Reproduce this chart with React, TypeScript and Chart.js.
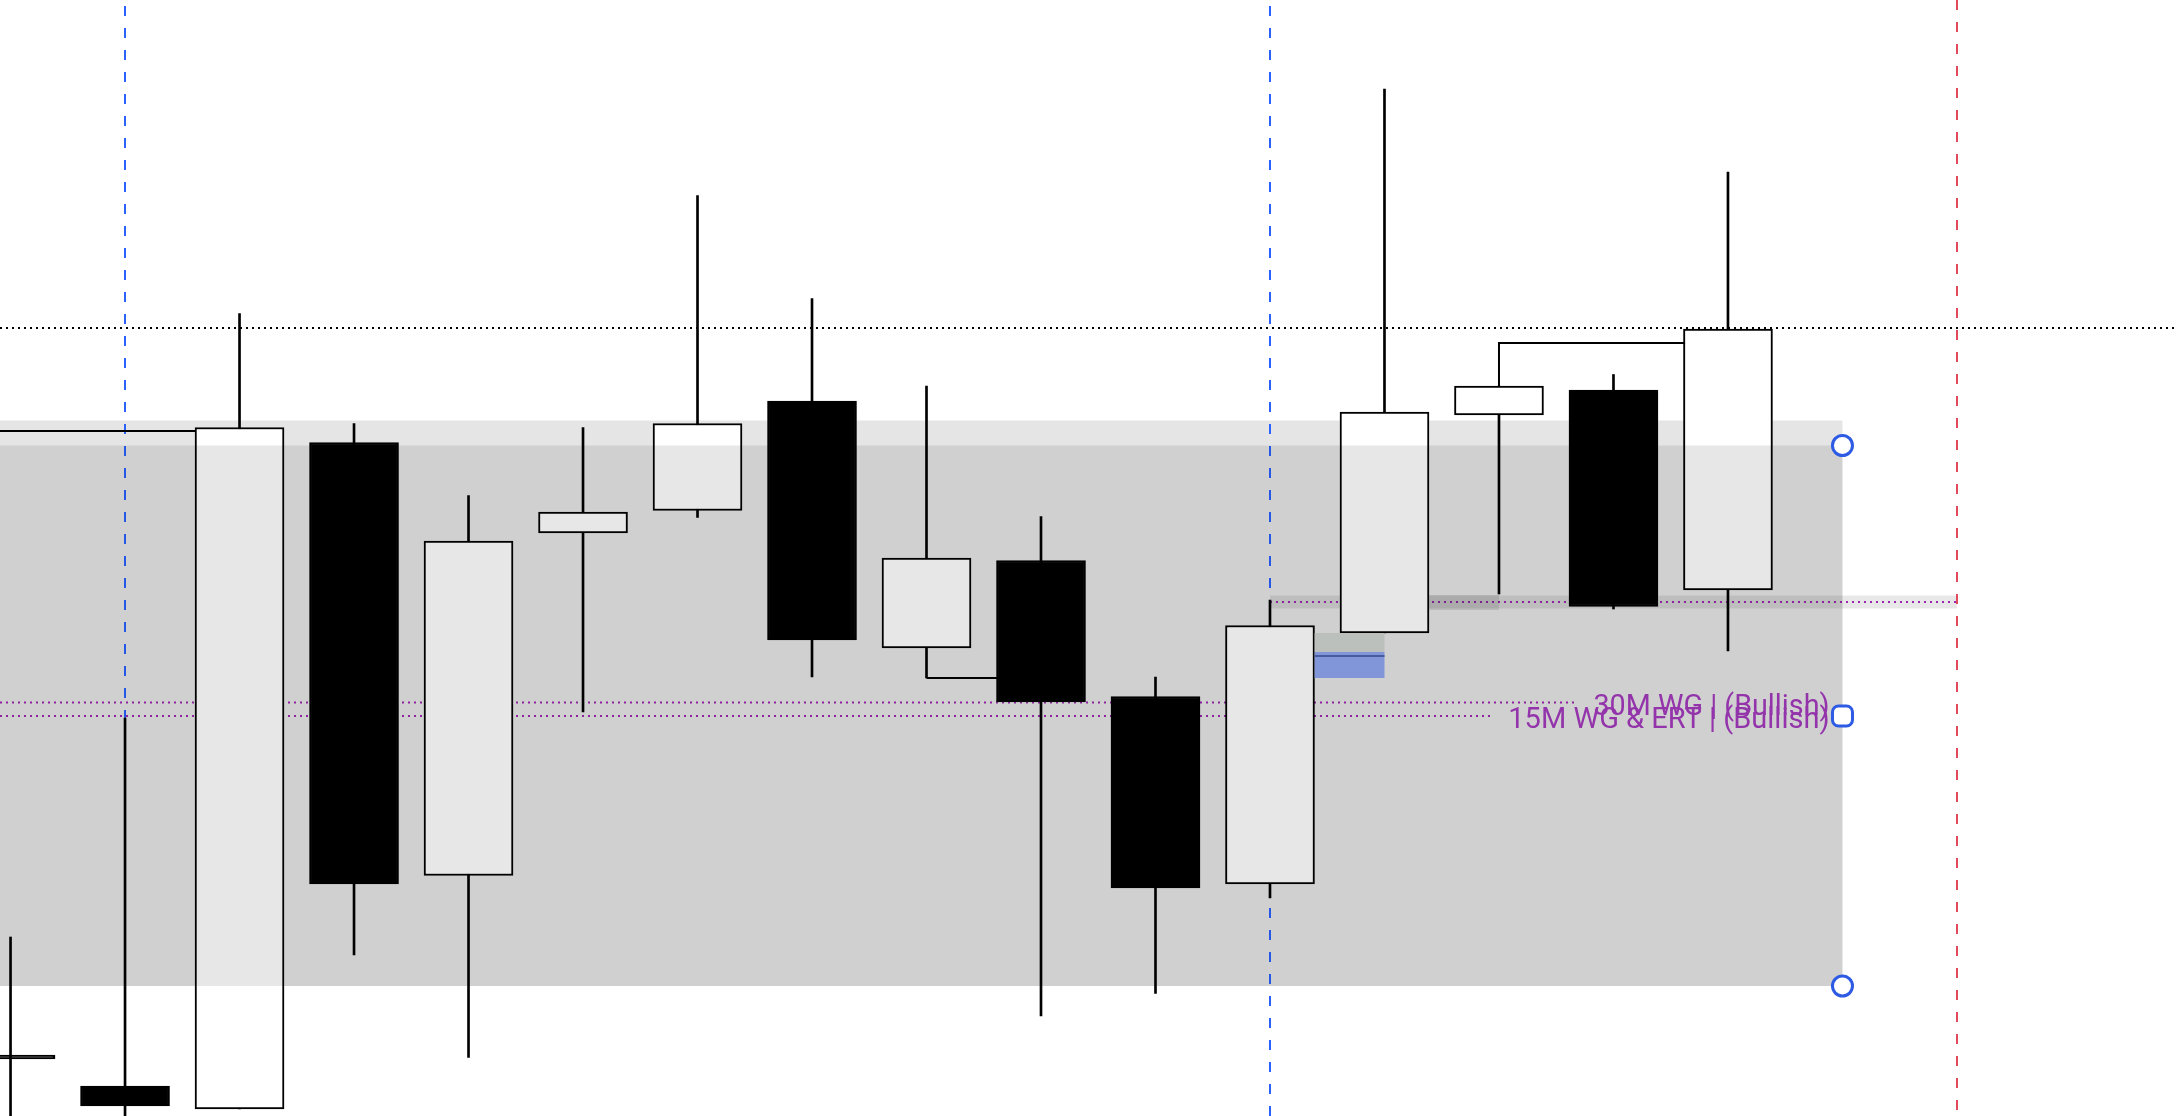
import { useEffect, useRef } from "react";
import { Chart, registerables } from "chart.js";

Chart.register(...registerables);

// ---- Candle data (bar index, OHLC) ----
const barIndex = [0, 1, 2, 3, 4, 5, 6, 7, 8, 9, 10, 11, 12, 13, 14, 15];
const opens = [2239.0, 2232.8, 2228.2, 2361.5, 2274.9, 2343.4, 2347.9, 2369.8, 2320.4, 2337.9, 2310.7, 2273.2, 2323.4, 2367.0, 2372.0, 2332.0];
const highs = [2262.6, 2306.4, 2387.3, 2365.3, 2350.9, 2364.5, 2410.9, 2390.3, 2372.8, 2346.7, 2314.6, 2330.0, 2432.2, 2372.8, 2375.1, 2415.6];
const lows = [2222.0, 2222.0, 2228.2, 2259.0, 2238.5, 2307.6, 2346.5, 2314.6, 2314.4, 2246.8, 2251.3, 2270.4, 2323.4, 2331.2, 2328.2, 2319.8];
const closes = [2238.2, 2228.8, 2364.5, 2273.2, 2341.8, 2347.6, 2365.3, 2322.0, 2338.4, 2309.6, 2272.4, 2324.9, 2367.6, 2372.8, 2328.7, 2384.2];

// ---- Visible ranges ----
const xRange = [-0.092, 18.913];
const yRange = [2226.8, 2450.0];

// ---- Drawings ----
const zoneX = [-1, 16];
const zoneBandTop = 2365.9;
const zoneTop = 2360.9;
const zoneBottom = 2252.8;
const blackDottedLevel = 2384.5;
const leftLine = { from: -1, to: 2, level: 2363.8 };
const wgLabels = ["30M WG | (Bullish)", "15M WG & ERT | (Bullish)"];
const wgLevels = [2309.5, 2306.8];
const wgLabelWidths = [236, 322];
const keyLevel = 2329.6;
const keyBand = [2328.3, 2330.9];
const keyRange = [11, 17];
const greyMark = { x: [12.39, 13], y: [2328.0, 2331.0] };
const posTarget = { x: [11.39, 12.0], y: [2319.6, 2323.4] };
const posStop = { x: [11.39, 12.0], y: [2314.4, 2319.6] };
const posEntry = 2318.8;
const connectorA = [[8, 2314.4], [9, 2314.4]];
const connectorB = [[13, 2372.8], [13, 2381.4], [15, 2381.4]];
const blueSessionLines = [1, 11];
const redSessionLine = 17;
const handleX = 16;
const handleLevels = [zoneTop, 2306.8, zoneBottom];

const PURPLE = "#9c27b0";
const LABEL_FONT = "29px Roboto";

const drawingsPlugin = {
  id: "drawings",
  beforeDatasetsDraw(chart: any) {
    const { ctx, scales, chartArea } = chart;
    const X = (v: number) => scales.x.getPixelForValue(v);
    const Y = (v: number) => scales.y.getPixelForValue(v);
    ctx.save();
    // zone band (light layer)
    ctx.fillStyle = "rgba(0,0,0,0.1)";
    ctx.fillRect(X(zoneX[0]), Y(zoneBandTop), X(zoneX[1]) - X(zoneX[0]), Y(zoneBottom) - Y(zoneBandTop));
    // key level band
    ctx.fillStyle = "rgba(0,0,0,0.09)";
    ctx.fillRect(X(keyRange[0]), Y(keyBand[1]), X(keyRange[1]) - X(keyRange[0]), Y(keyBand[0]) - Y(keyBand[1]));

    // black dotted level
    ctx.lineWidth = 2;
    ctx.setLineDash([2, 4]);
    ctx.strokeStyle = "#000";
    ctx.beginPath();
    ctx.moveTo(chartArea.left, Math.round(Y(blackDottedLevel)));
    ctx.lineTo(chartArea.right, Math.round(Y(blackDottedLevel)));
    ctx.stroke();

    // key level purple dotted
    ctx.strokeStyle = PURPLE;
    ctx.beginPath();
    ctx.moveTo(X(keyRange[0]), Y(keyLevel));
    ctx.lineTo(X(keyRange[1]), Y(keyLevel));
    ctx.stroke();

    // WG lines (stop before their labels)
    ctx.font = LABEL_FONT;
    wgLevels.forEach((lv, i) => {
      const w = Math.min(ctx.measureText(wgLabels[i]).width, wgLabelWidths[i]);
      const endX = X(handleX) - 13 - w - 17;
      ctx.beginPath();
      ctx.moveTo(chartArea.left, Y(lv));
      ctx.lineTo(endX, Y(lv));
      ctx.stroke();
    });

    // session lines
    ctx.setLineDash([10, 12]);
    ctx.strokeStyle = "#2962ff";
    blueSessionLines.forEach((v) => {
      ctx.beginPath();
      ctx.moveTo(Math.round(X(v)), chartArea.top - 16);
      ctx.lineTo(Math.round(X(v)), chartArea.bottom);
      ctx.stroke();
    });
    ctx.strokeStyle = "#e04a5a";
    ctx.beginPath();
    ctx.moveTo(Math.round(X(redSessionLine)), chartArea.top);
    ctx.lineTo(Math.round(X(redSessionLine)), chartArea.bottom);
    ctx.stroke();

    // solid connectors
    ctx.setLineDash([]);
    ctx.strokeStyle = "#000";
    ctx.lineWidth = 2;
    ctx.beginPath();
    ctx.moveTo(X(leftLine.from), Y(leftLine.level));
    ctx.lineTo(X(leftLine.to), Y(leftLine.level));
    ctx.stroke();
    [connectorA, connectorB].forEach((path) => {
      ctx.beginPath();
      path.forEach(([px, py], k) => {
        if (k === 0) ctx.moveTo(X(px), Y(py));
        else ctx.lineTo(X(px), Y(py));
      });
      ctx.stroke();
    });
    ctx.restore();
  },
  afterDatasetsDraw(chart: any) {
    const { ctx, scales } = chart;
    const X = (v: number) => scales.x.getPixelForValue(v);
    const Y = (v: number) => scales.y.getPixelForValue(v);
    ctx.save();
    // zone overlay
    ctx.fillStyle = "rgba(0,0,0,0.095)";
    ctx.fillRect(X(zoneX[0]), Y(zoneTop), X(zoneX[1]) - X(zoneX[0]), Y(zoneBottom) - Y(zoneTop));
    // grey mark
    ctx.fillStyle = "rgba(0,0,0,0.1)";
    ctx.fillRect(X(greyMark.x[0]), Y(greyMark.y[1]), X(greyMark.x[1]) - X(greyMark.x[0]), Y(greyMark.y[0]) - Y(greyMark.y[1]));
    // position tool
    ctx.fillStyle = "#bcc0bc";
    ctx.fillRect(X(posTarget.x[0]), Y(posTarget.y[1]), X(posTarget.x[1]) - X(posTarget.x[0]), Y(posTarget.y[0]) - Y(posTarget.y[1]));
    ctx.fillStyle = "#8196d9";
    ctx.fillRect(X(posStop.x[0]), Y(posStop.y[1]), X(posStop.x[1]) - X(posStop.x[0]), Y(posStop.y[0]) - Y(posStop.y[1]));
    ctx.strokeStyle = "#4a5aa0";
    ctx.lineWidth = 2;
    ctx.beginPath();
    ctx.moveTo(X(posStop.x[0]), Y(posEntry));
    ctx.lineTo(X(posStop.x[1]), Y(posEntry));
    ctx.stroke();

    // labels
    ctx.font = LABEL_FONT;
    ctx.fillStyle = "#9334ab";
    ctx.textAlign = "right";
    ctx.textBaseline = "alphabetic";
    wgLevels.forEach((lv, i) => {
      ctx.fillText(wgLabels[i], X(handleX) - 13, Y(lv) + 12, wgLabelWidths[i]);
    });

    // handles
    ctx.strokeStyle = "#2d5be3";
    ctx.lineWidth = 3;
    ctx.fillStyle = "#ffffff";
    handleLevels.forEach((lv, i) => {
      const cx = X(handleX);
      const cy = Y(lv);
      ctx.beginPath();
      if (i === 1) {
        ctx.roundRect(cx - 10, cy - 10, 20, 20, 6);
      } else {
        ctx.arc(cx, cy, 10, 0, Math.PI * 2);
      }
      ctx.fill();
      ctx.stroke();
    });
    ctx.restore();
  },
};

export default function App() {
  const canvasRef = useRef<HTMLCanvasElement | null>(null);

  useEffect(() => {
    if (!canvasRef.current) return;
    const bodyColors = barIndex.map((_, i) => (closes[i] >= opens[i] ? "#ffffff" : "#000000"));
    const chart = new Chart(canvasRef.current, {
      type: "bar",
      data: {
        datasets: [
          {
            label: "Body",
            data: barIndex.map((x, i) => ({ x, y: [opens[i], closes[i]] })) as any,
            backgroundColor: bodyColors,
            borderColor: "#000000",
            borderWidth: 2,
            borderSkipped: false,
            barThickness: 89,
            grouped: false,
            order: 0,
          } as any,
          {
            label: "Wick",
            data: barIndex.map((x, i) => ({ x, y: [lows[i], highs[i]] })) as any,
            backgroundColor: "#000000",
            borderWidth: 0,
            barThickness: 2,
            grouped: false,
            order: 1,
          } as any,
        ],
      },
      options: {
        animation: false,
        responsive: true,
        maintainAspectRatio: false,
        devicePixelRatio: 1,
        layout: { padding: 0 },
        plugins: { legend: { display: false }, tooltip: { enabled: false } },
        scales: {
          x: { type: "linear", min: xRange[0], max: xRange[1], display: false, offset: false, grid: { display: false } },
          y: { type: "linear", min: yRange[0], max: yRange[1], display: false, grid: { display: false } },
        },
      },
      plugins: [drawingsPlugin],
    });
    return () => chart.destroy();
  }, []);

  return (
    <div style={{ position: "fixed", left: 0, top: 0, width: 2176, height: 1116, background: "#fff" }}>
      <canvas ref={canvasRef} />
    </div>
  );
}
